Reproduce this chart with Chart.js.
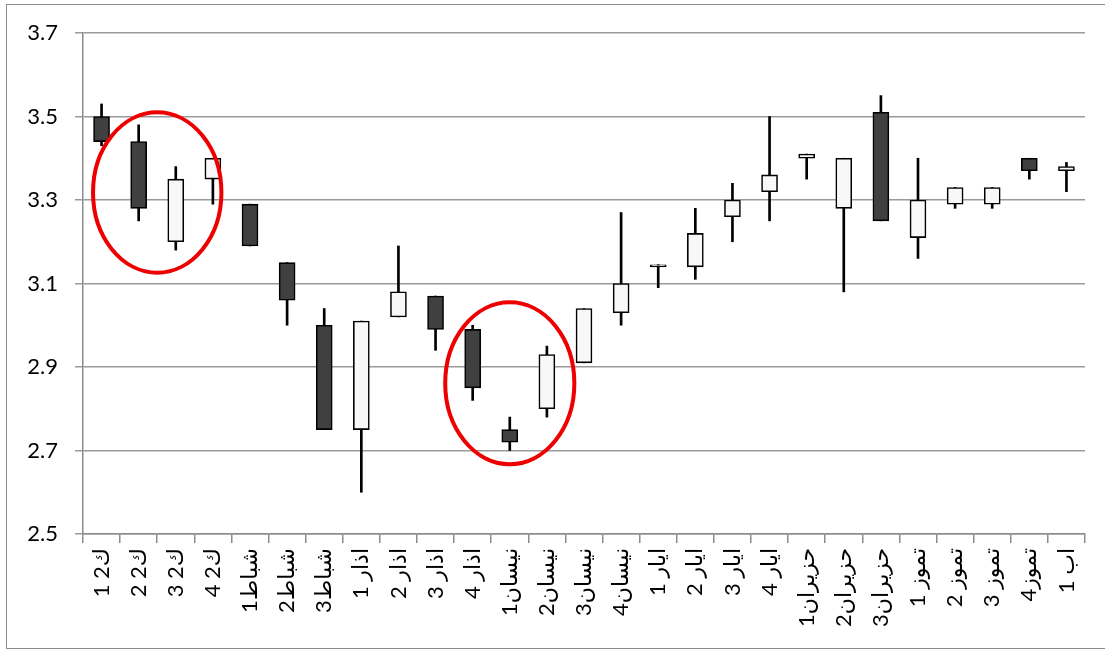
<!DOCTYPE html>
<html>
<head>
<meta charset="utf-8">
<title>Candles</title>
<script src="https://cdn.jsdelivr.net/npm/chart.js@4.4.1/dist/chart.umd.min.js"></script>
<style>
  html, body { margin: 0; padding: 0; background: #fff; }
  #wrap { width: 1105px; height: 650px; }
</style>
</head>
<body>
<div id="wrap"><canvas id="grafica" width="1105" height="650"></canvas></div>
<script>
// Datos

const semanas = ['ك2 1', 'ك2 2', 'ك2 3', 'ك2 4', 'شباط1', 'شباط2', 'شباط3',
  'اذار 1', 'اذار 2', 'اذار 3', 'اذار 4', 'نيسان1', 'نيسان2', 'نيسان3', 'نيسان4',
  'ايار 1', 'ايار 2', 'ايار 3', 'ايار 4', 'حزيران1', 'حزيران2', 'حزيران3',
  'تموز 1', 'تموز 2', 'تموز 3', 'تموز4', 'اب 1'];

const apertura = [3.50, 3.44, 3.20, 3.35, 3.29, 3.15, 3.00, 2.75, 3.02, 3.07, 2.99, 2.75, 2.80, 2.91, 3.03,
  3.14, 3.14, 3.26, 3.32, 3.40, 3.28, 3.51, 3.21, 3.29, 3.29, 3.40, 3.37];
const cierre = [3.44, 3.28, 3.35, 3.40, 3.19, 3.06, 2.75, 3.01, 3.08, 2.99, 2.85, 2.72, 2.93, 3.04, 3.10,
  3.145, 3.22, 3.30, 3.36, 3.41, 3.40, 3.25, 3.30, 3.33, 3.33, 3.37, 3.38];
const maximo = [3.53, 3.48, 3.38, 3.40, 3.29, 3.15, 3.04, 3.01, 3.19, 3.07, 3.00, 2.78, 2.95, 3.04, 3.27,
  3.145, 3.28, 3.34, 3.50, 3.41, 3.40, 3.55, 3.40, 3.33, 3.33, 3.40, 3.39];
const minimo = [3.43, 3.25, 3.18, 3.29, 3.19, 3.00, 2.75, 2.60, 3.02, 2.94, 2.82, 2.70, 2.78, 2.91, 3.00,
  3.09, 3.11, 3.20, 3.25, 3.35, 3.08, 3.25, 3.16, 3.28, 3.28, 3.35, 3.32];

const ticksY = [2.5, 2.7, 2.9, 3.1, 3.3, 3.5, 3.7];

// circulos rojos: centro (indice, valor) y radios (categorias, valor)
const circuloCentroX = [1.5, 11.0];
const circuloCentroY = [3.318, 2.861];
const circuloRadioX = [1.73, 1.74];
const circuloRadioY = [0.192, 0.194];

const fuente = "Lato, 'DejaVu Sans', sans-serif";

const cuerpos = apertura.map((o, i) => [o, cierre[i]]);
const mechas = minimo.map((l, i) => [l, maximo[i]]);
const colores = apertura.map((o, i) => cierre[i] < o ? '#404040' : '#f8f8f8');

const marco = {
  id: 'marco',
  beforeDraw(chart) {
    const ctx = chart.ctx;
    ctx.save();
    ctx.fillStyle = '#fff';
    ctx.fillRect(0, 0, chart.width, chart.height);
    ctx.strokeStyle = '#8c8c8c';
    ctx.lineWidth = 1;
    ctx.strokeRect(6.5, 4.5, 1110, 644);
    ctx.restore();
  }
};

const circulos = {
  id: 'circulos',
  afterDatasetsDraw(chart) {
    const ctx = chart.ctx;
    const x = chart.scales.x;
    const y = chart.scales.y;
    ctx.save();
    ctx.strokeStyle = '#ee0000';
    ctx.lineWidth = 4;
    for (let i = 0; i < circuloCentroX.length; i++) {
      const cx = x.getPixelForValue(circuloCentroX[i]);
      const cy = y.getPixelForValue(circuloCentroY[i]);
      const rx = Math.abs(x.getPixelForValue(circuloCentroX[i] + circuloRadioX[i]) - cx);
      const ry = Math.abs(y.getPixelForValue(circuloCentroY[i] + circuloRadioY[i]) - cy);
      ctx.beginPath();
      ctx.ellipse(cx, cy, rx, ry, 0, 0, Math.PI * 2);
      ctx.stroke();
    }
    ctx.restore();
  }
};

const config = {
  type: 'bar',
  data: {
    labels: semanas,
    datasets: [{
      label: 'cuerpo',
      data: cuerpos,
      backgroundColor: colores,
      borderColor: '#000',
      borderWidth: 1.6,
      borderSkipped: false,
      barThickness: 16,
      grouped: false
    }, {
      label: 'mecha',
      data: mechas,
      backgroundColor: '#000',
      borderWidth: 0,
      barThickness: 2,
      grouped: false
    }]
  },
  options: {
    responsive: false,
    animation: false,
    layout: { padding: { left: 0, right: 20, top: 33, bottom: 0 } },
    plugins: {
      legend: { display: false },
      tooltip: { enabled: false }
    },
    scales: {
      x: {
        grid: {
          offset: true,
          drawOnChartArea: false,
          drawTicks: true,
          tickLength: 9,
          color: '#8c8c8c',
          lineWidth: 1.5
        },
        border: { display: true, color: '#8c8c8c', width: 1.5 },
        ticks: {
          autoSkip: false,
          minRotation: 90,
          maxRotation: 90,
          padding: 5,
          color: '#000',
          font: { family: fuente, size: 22 }
        },
        afterFit(scale) { scale.height = 116; }
      },
      y: {
        min: 2.5,
        max: 3.7,
        afterBuildTicks(scale) { scale.ticks = ticksY.map(v => ({ value: v })); },
        grid: {
          color: '#9a9a9a',
          lineWidth: 1.5,
          drawTicks: true,
          tickLength: 8
        },
        border: { display: true, color: '#8c8c8c', width: 1.5 },
        ticks: {
          padding: 17,
          color: '#000',
          font: { family: fuente, size: 22 },
          callback: v => Number(v).toFixed(1)
        },
        afterFit(scale) { scale.width = 83; }
      }
    }
  },
  plugins: [marco, circulos]
};

var graficaVelas = new Chart(document.getElementById('grafica'), config);
</script>
</body>
</html>
